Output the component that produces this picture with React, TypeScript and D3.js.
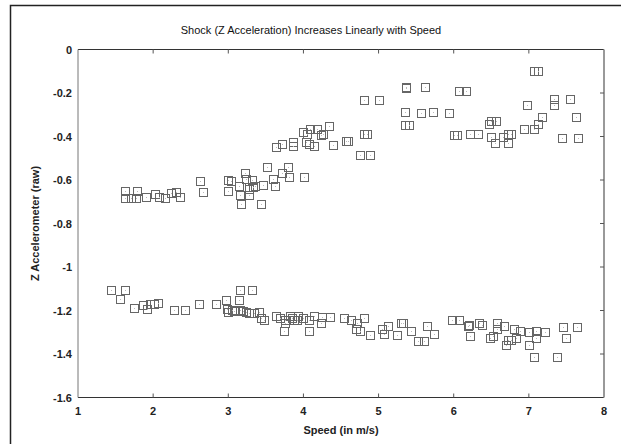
import * as d3 from "d3";

// upper cluster (speed, z accel)
const upperSpeed = [
  1.62, 1.62, 1.71, 1.78, 1.77, 1.9, 2.03, 2.08, 2.16, 2.24, 2.31, 2.36,
  2.63, 2.66, 3.0, 3.03, 3.0, 3.14, 3.15, 3.17, 3.22, 3.23, 3.31, 3.28,
  3.27, 3.28, 3.33, 3.36, 3.43, 3.46, 3.51, 3.6, 3.62, 3.72, 3.79, 3.81,
  3.64, 3.72, 3.86, 3.86, 4.01, 4.0, 4.03, 4.05, 4.07, 4.09, 4.14, 4.18,
  4.23, 4.26, 4.34, 4.4, 4.56, 4.59, 4.8, 4.84, 4.75, 4.89, 4.8, 5.0,
  5.37, 5.36, 5.62, 5.35, 5.35, 5.4, 5.57, 5.72, 5.94, 6.07, 6.17, 6.0,
  6.04, 6.22, 6.32, 6.47, 6.49, 6.56, 6.5, 6.55, 6.65, 6.72, 6.76, 6.72,
  6.94, 7.07, 6.98, 7.12, 7.17, 7.07, 7.12, 7.34, 7.34, 7.55, 7.63, 7.44,
  7.65,
];
const upperAccel = [
  -0.65, -0.681, -0.681, -0.65, -0.684, -0.676, -0.664, -0.676, -0.682, -0.661, -0.653, -0.676,
  -0.603, -0.653, -0.6, -0.603, -0.65, -0.626, -0.668, -0.71, -0.566, -0.597, -0.6, -0.63,
  -0.668, -0.641, -0.63, -0.626, -0.71, -0.624, -0.541, -0.597, -0.626, -0.566, -0.541, -0.587,
  -0.447, -0.434, -0.424, -0.442, -0.587, -0.378, -0.424, -0.389, -0.434, -0.367, -0.444, -0.367,
  -0.393, -0.39, -0.35, -0.439, -0.421, -0.421, -0.39, -0.39, -0.486, -0.486, -0.232, -0.232,
  -0.179, -0.171, -0.171, -0.286, -0.347, -0.347, -0.291, -0.286, -0.291, -0.191, -0.191, -0.393,
  -0.393, -0.39, -0.39, -0.343, -0.329, -0.329, -0.401, -0.428, -0.401, -0.39, -0.39, -0.428,
  -0.367, -0.367, -0.256, -0.344, -0.309, -0.1, -0.1, -0.229, -0.256, -0.229, -0.309, -0.408,
  -0.408,
];

// lower cluster
const lowerSpeed = [
  1.44, 1.62, 1.56, 1.74, 1.86, 1.92, 1.96, 2.01, 2.07, 2.28, 2.43, 2.61,
  2.84, 2.97, 3.14, 3.16, 3.32, 2.98, 3.0, 3.05, 3.07, 3.16, 3.2, 3.24,
  3.27, 3.34, 3.41, 3.43, 3.48, 3.63, 3.69, 3.75, 3.76, 3.74, 3.82, 3.85,
  3.87, 3.93, 3.91, 4.0, 4.08, 4.07, 4.14, 4.25, 4.24, 4.35, 4.54, 4.63,
  4.71, 4.7, 4.75, 4.8, 4.88, 5.04, 5.07, 5.12, 5.25, 5.3, 5.33, 5.43,
  5.52, 5.61, 5.65, 5.74, 5.98, 6.07, 6.19, 6.2, 6.22, 6.33, 6.37, 6.48,
  6.52, 6.57, 6.58, 6.67, 6.7, 6.72, 6.76, 6.83, 6.8, 6.88, 7.0, 7.0,
  7.09, 7.09, 7.07, 7.22, 7.38, 7.46, 7.49, 7.64,
];
const lowerAccel = [
  -1.106, -1.106, -1.147, -1.188, -1.175, -1.191, -1.168, -1.168, -1.165, -1.198, -1.198, -1.168,
  -1.168, -1.15, -1.15, -1.106, -1.106, -1.191, -1.208, -1.196, -1.204, -1.196, -1.204, -1.208,
  -1.211, -1.211, -1.208, -1.234, -1.242, -1.227, -1.234, -1.245, -1.257, -1.292, -1.227, -1.234,
  -1.242, -1.223, -1.242, -1.234, -1.245, -1.292, -1.227, -1.23, -1.257, -1.23, -1.234, -1.242,
  -1.257, -1.285, -1.292, -1.234, -1.312, -1.285, -1.306, -1.272, -1.312, -1.257, -1.257, -1.292,
  -1.341, -1.341, -1.272, -1.306, -1.242, -1.242, -1.272, -1.265, -1.315, -1.257, -1.265, -1.326,
  -1.315, -1.285, -1.257, -1.272, -1.36, -1.337, -1.337, -1.326, -1.285, -1.292, -1.3, -1.36,
  -1.292, -1.326, -1.412, -1.3, -1.412, -1.275, -1.327, -1.275,
];

const xTicks = [1, 2, 3, 4, 5, 6, 7, 8];
const yTicks = [0, -0.2, -0.4, -0.6, -0.8, -1, -1.2, -1.4, -1.6];

const title = "Shock (Z Acceleration) Increases Linearly with Speed";
const xTitle = "Speed (in m/s)";
const yTitle = "Z Accelerometer (raw)";

export default function App() {
  const width = 621;
  const height = 444;
  const left = 78, right = 604, top = 49.5, bottom = 397.5;

  const x = d3.scaleLinear().domain([1, 8]).range([left, right]);
  const y = d3.scaleLinear().domain([-1.6, 0]).range([bottom, top]);

  const points = [
    ...upperSpeed.map((s, i) => [s, upperAccel[i]]),
    ...lowerSpeed.map((s, i) => [s, lowerAccel[i]]),
  ];
  const fmt = (v: number) => (Math.abs(v) < 1e-9 ? "0" : String(+v.toFixed(1)));
  const font = "'Liberation Sans', Arial, sans-serif";
  const m = 4; // half marker size

  return (
    <div style={{ position: "absolute", left: 0, top: 0 }}>
      <svg width={width} height={height} style={{ display: "block", background: "#fff" }} fontFamily={font}>
        {/* outer frame */}
        <path d={`M10.5,${height}V5.5H${width}`} fill="none" stroke="#222" strokeWidth={1.5} />

        <text x={311} y={34} textAnchor="middle" fontSize={11} fill="#111">{title}</text>

        {/* axes frame */}
        <line x1={left} x2={right} y1={top} y2={top} stroke="#333" />
        <line x1={left} x2={right} y1={bottom} y2={bottom} stroke="#333" />
        <line x1={left} x2={left} y1={top} y2={bottom} stroke="#777" />
        <line x1={right} x2={right} y1={top} y2={bottom} stroke="#999" strokeWidth={2} />

        {xTicks.slice(1, -1).map((t) => (
          <g key={"xt" + t}>
            <line x1={x(t)} x2={x(t)} y1={top} y2={top + 4} stroke="#555" />
            <line x1={x(t)} x2={x(t)} y1={bottom} y2={bottom - 4} stroke="#555" />
          </g>
        ))}
        {yTicks.slice(1, -1).map((t) => (
          <line key={"yt" + t} x1={right} x2={right - 4} y1={y(t)} y2={y(t)} stroke="#555" />
        ))}

        {xTicks.map((t) => (
          <text key={"xl" + t} x={x(t)} y={415} textAnchor="middle" fontSize={11} fontWeight="bold" fill="#222">
            {t}
          </text>
        ))}
        {yTicks.map((t) => (
          <text key={"yl" + t} x={72} y={y(t) + 4} textAnchor="end" fontSize={11} fontWeight="bold" fill="#222">
            {fmt(t)}
          </text>
        ))}

        <text x={(left + right) / 2} y={434} textAnchor="middle" fontSize={11} fontWeight="bold" fill="#222">
          {xTitle}
        </text>
        <text
          transform={`translate(39,${(top + bottom) / 2}) rotate(-90)`}
          textAnchor="middle"
          fontSize={11}
          fontWeight="bold"
          fill="#222"
        >
          {yTitle}
        </text>

        {points.map(([s, a], i) => (
          <g key={i}>
            <rect
              x={Math.round(x(s)) - m + 0.5}
              y={Math.round(y(a)) - m + 0.5}
              width={2 * m}
              height={2 * m}
              fill="none"
              stroke="#666"
              strokeWidth={1}
            />
            <rect x={Math.round(x(s))} y={Math.round(y(a))} width={1} height={1} fill="#bbb" />
          </g>
        ))}
      </svg>
    </div>
  );
}
